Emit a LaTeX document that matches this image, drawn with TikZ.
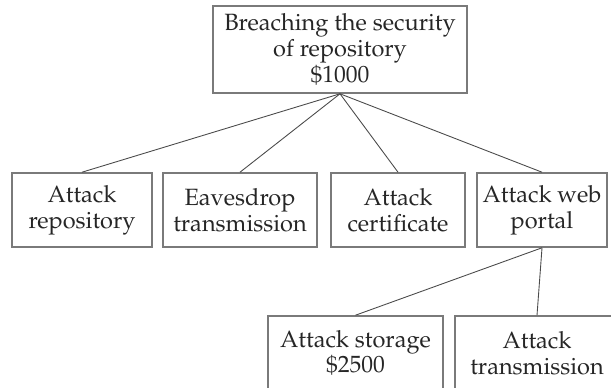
\documentclass[tikz,border=0pt]{standalone}
\usepackage[T1]{fontenc}
\usepackage{mathpazo}
\usepackage{tikz}
\usetikzlibrary{positioning}
\definecolor{boxGray}{HTML}{7A7A7A}
\definecolor{lineGray}{HTML}{4A4A4A}
\colorlet{inkdark}{black!85}

\begin{document}
\begin{tikzpicture}[
  every node/.style={font=\fontsize{13.4}{14.6}\selectfont, text=inkdark},
  goal/.style={draw=boxGray, line width=0.9pt, align=center,
               minimum width=5.08cm, minimum height=1.74cm, inner sep=2pt},
  leaf/.style={draw=boxGray, line width=0.9pt, align=center,
               minimum height=1.48cm, inner sep=2pt},
  edge/.style={lineGray, line width=0.5pt},
]
  \useasboundingbox (0,0) rectangle (12.22,7.74);

  \node[goal] (root) at (6.80, 6.75)
    {Breaching the security\\ of repository\\ \$1000};

  \node[leaf, minimum width=2.80cm] (repo) at (1.64, 3.54)
    {Attack\\ repository};
  \node[leaf, minimum width=3.08cm] (eaves) at (4.80, 3.54)
    {Eavesdrop\\ transmission};
  \node[leaf, minimum width=2.68cm] (cert) at (7.96, 3.54)
    {Attack\\ certificate};
  \node[leaf, minimum width=2.60cm] (portal) at (10.84, 3.54)
    {Attack web\\ portal};

  \node[leaf, minimum width=3.50cm] (storage) at (7.11, 0.68)
    {Attack storage\\ \$2500};
  \node[leaf, minimum width=3.28cm] (trans) at (10.74, 0.68)
    {Attack\\ transmission};

  \foreach \leafname in {repo, eaves, cert, portal}
    \draw[edge] (root.south) -- (\leafname.north);
  \draw[edge] (portal.south) -- (storage.north);
  \draw[edge] (portal.south) -- (trans.north);
\end{tikzpicture}
\end{document}
